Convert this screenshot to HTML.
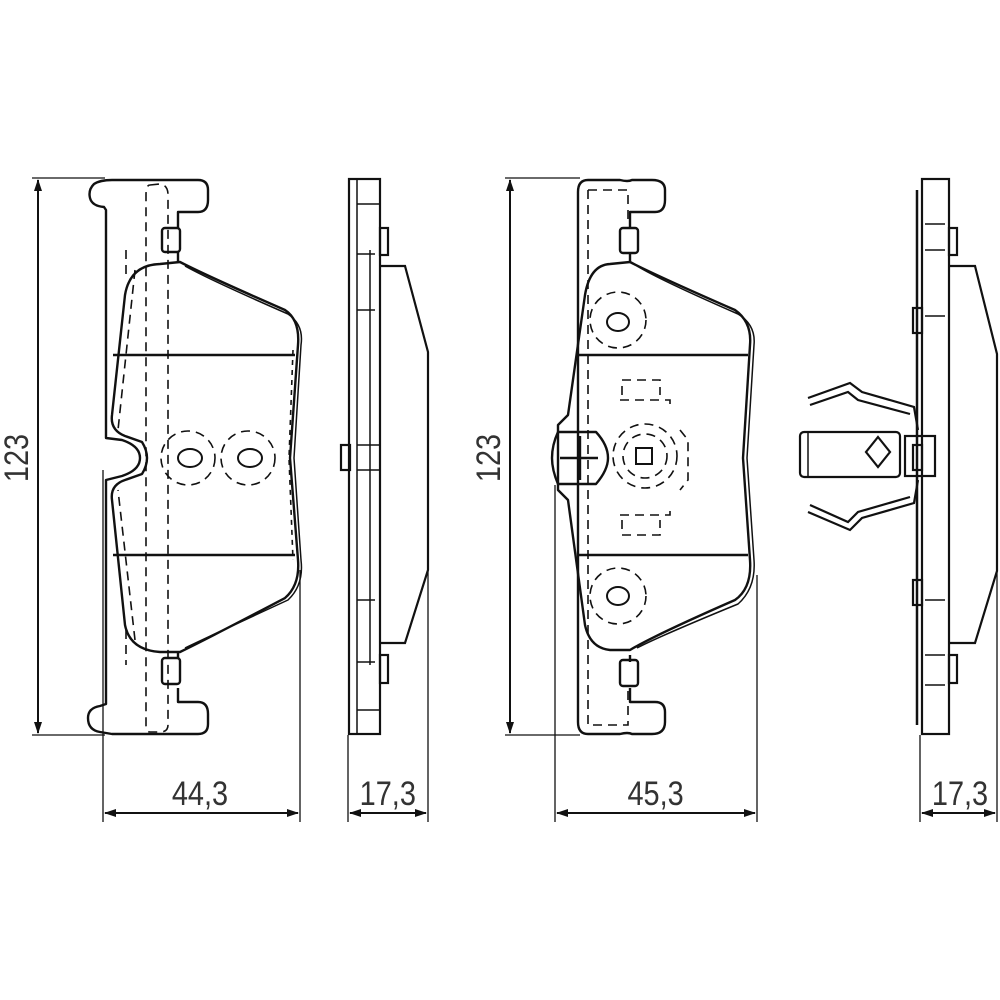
<!DOCTYPE html>
<html><head><meta charset="utf-8"><style>
html,body{margin:0;padding:0;background:#fff;width:1000px;height:1000px;overflow:hidden}
svg{display:block}
text{font-family:"Liberation Sans",sans-serif;fill:#333;font-size:34px}
</style></head><body>
<svg width="1000" height="1000" viewBox="0 0 1000 1000" xmlns="http://www.w3.org/2000/svg">
<defs>
<marker id="a" markerWidth="12" markerHeight="8" refX="11" refY="4" orient="auto-start-reverse" markerUnits="userSpaceOnUse"><path d="M0,0 L12,4 L0,8 Z" fill="#111"/></marker>
</defs>
<g fill="none" stroke="#111" stroke-width="1.3">
<line x1="32" y1="178" x2="105" y2="178"/><line x1="32" y1="735" x2="105" y2="735"/>
<line x1="38" y1="180" x2="38" y2="733" stroke-width="2" marker-start="url(#a)" marker-end="url(#a)"/>
<line x1="103" y1="470" x2="103" y2="822"/><line x1="300" y1="570" x2="300" y2="822"/>
<line x1="105" y1="813" x2="298" y2="813" stroke-width="2" marker-start="url(#a)" marker-end="url(#a)"/>
<line x1="348" y1="735" x2="348" y2="822"/><line x1="428" y1="570" x2="428" y2="822"/>
<line x1="350" y1="813" x2="426" y2="813" stroke-width="2" marker-start="url(#a)" marker-end="url(#a)"/>
<line x1="505" y1="178" x2="580" y2="178"/><line x1="505" y1="735" x2="580" y2="735"/>
<line x1="510" y1="180" x2="510" y2="733" stroke-width="2" marker-start="url(#a)" marker-end="url(#a)"/>
<line x1="555" y1="485" x2="555" y2="822"/><line x1="757" y1="575" x2="757" y2="822"/>
<line x1="557" y1="813" x2="755" y2="813" stroke-width="2" marker-start="url(#a)" marker-end="url(#a)"/>
<line x1="920" y1="735" x2="920" y2="822"/><line x1="997" y1="570" x2="997" y2="822"/>
<line x1="922" y1="813" x2="995" y2="813" stroke-width="2" marker-start="url(#a)" marker-end="url(#a)"/>
</g>
<g transform="translate(28,458) rotate(-90)"><text text-anchor="middle" transform="scale(0.85,1)" x="0" y="0">123</text></g>
<g transform="translate(500,458) rotate(-90)"><text text-anchor="middle" transform="scale(0.85,1)" x="0" y="0">123</text></g>
<text x="200" y="805" text-anchor="middle" transform="translate(30,0) scale(0.85,1)">44,3</text>
<text x="388" y="805" text-anchor="middle" transform="translate(58,0) scale(0.85,1)">17,3</text>
<text x="656" y="805" text-anchor="middle" transform="translate(98,0) scale(0.85,1)">45,3</text>
<text x="960" y="805" text-anchor="middle" transform="translate(144,0) scale(0.85,1)">17,3</text>

<g fill="none" stroke="#111" stroke-width="2.4" stroke-linejoin="round">
<!-- LEFT PAD plate -->
<path d="M178,228 L178,212 L198,212 Q208,212 208,200 L208,190 Q208,180 198,180 L112,180 Q100,180 94,184 Q88,190 90,198 Q92,206 104,207 L106,210 L106,438 L122,440 Q140,446 140,458 Q140,470 122,476 L106,480 L106,704 L100,706 Q88,708 88,718 Q88,730 100,732 L112,734 L198,734 Q208,734 208,724 L208,714 Q208,702 198,702 L178,702 L178,688"/>
<path d="M178,252 L178,262 M178,652 L178,658"/>
<rect x="162" y="228" width="18" height="24" rx="3"/><rect x="162" y="658" width="18" height="26" rx="3"/>
<path d="M180,262 Q205,275 285,310 Q300,320 298,345 L290,458 L298,560 Q300,585 285,598 Q205,640 180,652 L160,652 Q130,650 125,625 L112,500 Q110,485 125,480 L142,474 Q152,458 142,442 L125,436 Q110,430 112,415 L125,295 Q130,265 160,264 Z"/>
<path d="M185,266 Q210,280 288,314 Q304,325 301,345 L294,458 L301,560 Q304,585 288,600 Q210,636 185,648" stroke-width="1.5"/>
<line x1="113" y1="355" x2="295" y2="355"/><line x1="113" y1="555" x2="295" y2="555"/>
</g>
<g fill="none" stroke="#111" stroke-width="1.6" stroke-dasharray="9,6">
<path d="M150,185 L160,184 Q168,185 168,195 L168,725 Q168,732 160,732 L150,732 Q146,732 146,725 L146,195 Q146,185 150,185 Z"/>
<path d="M135,270 L118,430 M135,640 L118,490 M126,250 L126,280 M126,630 L126,665"/>
<circle cx="188" cy="458" r="27"/><circle cx="248" cy="458" r="27"/>
<path d="M293,350 L289,458 L293,560" stroke-dasharray="5,5"/>
</g>
<g fill="none" stroke="#111" stroke-width="2">
<ellipse cx="190" cy="458" rx="12" ry="9"/><ellipse cx="250" cy="458" rx="12" ry="9"/>
</g>
<g fill="none" stroke="#111" stroke-width="2.2">
<rect x="349" y="179" width="31" height="555"/>
<line x1="357" y1="179" x2="357" y2="734" stroke-width="1.5"/>
<line x1="370" y1="250" x2="370" y2="665" stroke-width="1.5"/>
<line x1="357" y1="204" x2="380" y2="204" stroke-width="1.5"/><line x1="357" y1="710" x2="380" y2="710" stroke-width="1.5"/>
<rect x="380" y="228" width="8" height="27"/><rect x="380" y="655" width="8" height="28"/>
<rect x="341" y="445" width="9" height="25"/>
<line x1="357" y1="445" x2="380" y2="445" stroke-width="1.5"/><line x1="357" y1="470" x2="380" y2="470" stroke-width="1.5"/>
<path d="M380,266 L405,266 L428,352 L428,570 L405,643 L380,643"/>
<path d="M357,254 L375,254 M357,310 L375,310 M357,600 L375,600 M357,662 L375,662" stroke-width="1.5"/>
</g>

<g fill="none" stroke="#111" stroke-width="2.4" stroke-linejoin="round">
<path d="M630,228 L630,212 L655,212 Q665,212 665,200 L665,190 Q665,180 652,180 L632,180 Q628,182 620,180 L588,180 Q578,180 578,192 L578,722 Q578,734 588,734 L620,734 Q628,732 632,734 L652,734 Q665,734 665,722 L665,712 Q665,702 655,702 L630,702 L630,688 M630,252 L630,262 M630,655 L630,662"/>
<rect x="620" y="228" width="18" height="25" rx="3"/><rect x="620" y="660" width="18" height="26" rx="3"/>
<path d="M630,262 Q655,275 735,310 Q752,322 750,345 L743,458 L750,560 Q752,588 735,600 Q655,635 630,650 L610,650 Q590,648 585,625 L568,500 L558,490 L558,425 L568,415 L585,295 Q590,265 610,264 Z"/>
<path d="M637,266 Q660,280 738,314 Q756,325 754,345 L747,458 L754,560 Q756,588 738,604 Q660,636 637,648" stroke-width="1.5"/>
<line x1="578" y1="355" x2="748" y2="355"/><line x1="578" y1="555" x2="748" y2="555"/>
<path d="M558,432 L596,432 Q608,445 608,458 Q608,470 596,484 L558,484 Q552,470 552,458 Q552,445 558,432 Z"/>
<path d="M580,436 L580,480 M560,458 L598,458"/>
</g>
<g fill="none" stroke="#111" stroke-width="1.6" stroke-dasharray="9,6">
<path d="M588,190 L628,190 L628,225 M588,190 L588,725 L628,725 L628,690"/>
<circle cx="618" cy="320" r="28"/><circle cx="618" cy="596" r="28"/>
<circle cx="645" cy="456" r="22"/><circle cx="645" cy="456" r="32"/>
<path d="M622,395 L622,380 L660,380 L660,395 M622,520 L622,535 L660,535 L660,520 M620,400 L670,400 L670,410 M620,515 L670,515 L670,505 M680,430 L688,440 L688,480 L680,490"/>
</g>
<g fill="none" stroke="#111" stroke-width="2">
<rect x="636" y="448" width="16" height="16"/>
<ellipse cx="618" cy="322" rx="11" ry="9"/><ellipse cx="618" cy="596" rx="11" ry="9"/>
</g>
<g fill="none" stroke="#111" stroke-width="2.2">
<rect x="922" y="179" width="27" height="555"/>
<line x1="917" y1="190" x2="917" y2="725" stroke-width="2.5"/>
<rect x="949" y="228" width="8" height="27"/><rect x="949" y="655" width="8" height="28"/>
<rect x="913" y="308" width="9" height="25"/><rect x="913" y="580" width="9" height="25"/>
<path d="M949,266 L975,266 L997,354 L997,571 L975,643 L949,643"/>
<path d="M925,224 L945,224 M925,250 L945,250 M925,316 L945,316 M925,600 L945,600 M925,655 L945,655 M925,685 L945,685" stroke-width="1.5"/>
<rect x="800" y="432" width="100" height="45" rx="4"/>
<line x1="808" y1="432" x2="808" y2="477" stroke-width="1.5"/>
<path d="M878,437 L890,452 L878,467 L866,452 Z"/>
<rect x="905" y="436" width="30" height="40"/>
<rect x="913" y="445" width="9" height="25"/>
<path d="M808,398 L850,383 L862,392 L914,407 L918,430"/>
<path d="M810,405 L848,392 L858,400 L910,414"/>
<path d="M808,512 L850,530 L862,518 L914,503 L918,480"/>
<path d="M810,505 L848,522 L858,512 L910,497"/>
</g>
</svg>
</body></html>
